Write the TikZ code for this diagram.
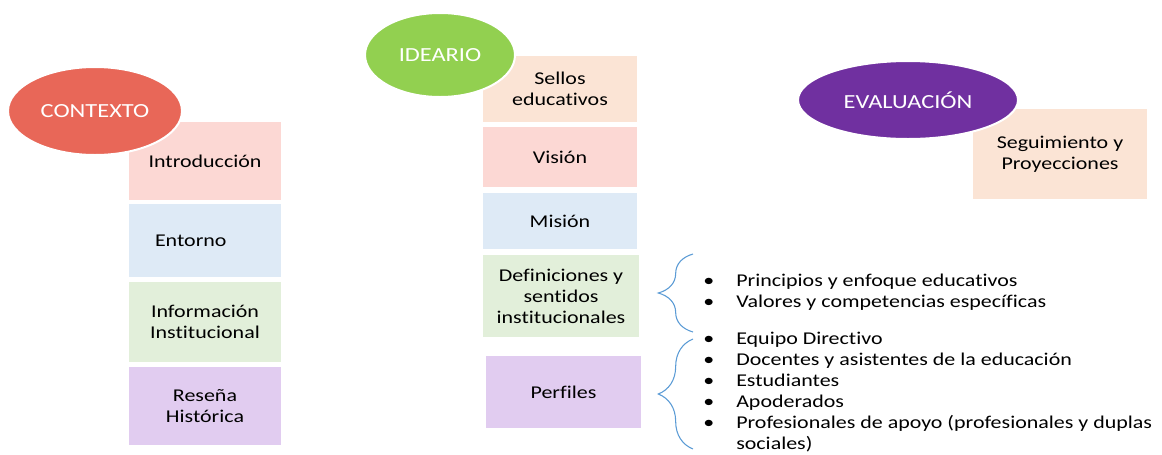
\documentclass[tikz,border=0pt]{standalone}
\usepackage{fontspec}
\setmainfont{Carlito}[FakeStretch=1.22, Ligatures=NoCommon]
\usetikzlibrary{shapes, decorations.pathreplacing}

\definecolor{ctxred}{RGB}{232,103,88}
\definecolor{idegreen}{RGB}{146,208,80}
\definecolor{evapurple}{RGB}{112,48,160}
\definecolor{pinkfill}{RGB}{252,216,212}
\definecolor{bluefill}{RGB}{222,234,246}
\definecolor{greenfill}{RGB}{226,239,218}
\definecolor{lilacfill}{RGB}{225,204,240}
\definecolor{peachfill}{RGB}{251,228,213}
\definecolor{bracecol}{RGB}{91,155,213}

\tikzset{
  box/.style={rectangle, align=center, inner sep=0pt},
  bubble/.style={ellipse, draw=white, line width=1.5pt, text=white, inner sep=0pt,
    font=\fontsize{15}{18}\selectfont},
  bracepath/.style={decorate, decoration={brace, amplitude=26pt}, draw=bracecol, line width=0.8pt}
}

\begin{document}
\begin{tikzpicture}[x=0.75pt, y=-0.75pt, font=\fontsize{13.5}{15.75}\selectfont]
\useasboundingbox (0,0) rectangle (1162,454);

% CONTEXTO
\node[box, fill=pinkfill, minimum width=114pt, minimum height=58.5pt] (intro) at (205,161) {Introducción};
\node[box, fill=bluefill, minimum width=114pt, minimum height=54.75pt, text width=75pt, inner xsep=19.5pt, align=left] (entorno) at (205,240.5) {Entorno};
\node[box, fill=greenfill, minimum width=114pt, minimum height=60pt] (info) at (205,322) {Información\\Institucional};
\node[box, fill=lilacfill, minimum width=114pt, minimum height=58.5pt] (resena) at (205,406) {Reseña\\Histórica};
\node[bubble, fill=ctxred, minimum width=130.5pt, minimum height=66pt] (contexto) at (95,111) {CONTEXTO};

% IDEARIO
\node[box, fill=peachfill, minimum width=115.5pt, minimum height=49.5pt] (sellos) at (560,89) {Sellos\\educativos};
\node[box, fill=pinkfill, minimum width=115.5pt, minimum height=45pt] (vision) at (560,157) {Visión};
\node[box, fill=bluefill, minimum width=115.5pt, minimum height=42pt] (mision) at (560,221) {Misión};
\node[box, fill=greenfill, minimum width=117pt, minimum height=61.5pt] (definiciones) at (561,296) {Definiciones y\\sentidos\\institucionales};
\node[box, fill=lilacfill, minimum width=116.25pt, minimum height=54pt] (perfiles) at (563.5,392) {Perfiles};
\node[bubble, fill=idegreen, minimum width=112.5pt, minimum height=63pt] (ideario) at (440,55) {IDEARIO};

% EVALUACION
\node[box, fill=peachfill, minimum width=130.5pt, minimum height=67.5pt] (seguimiento) at (1060,154) {Seguimiento y\\Proyecciones};
\node[bubble, fill=evapurple, minimum width=165pt, minimum height=58.5pt] (evaluacion) at (908,100) {EVALUACIÓN};

% llaves y listas
\coordinate (b1top) at (693,254);
\coordinate (b1bot) at (693,332);
\coordinate (b2top) at (693,339);
\coordinate (b2bot) at (693,449);
\draw[bracepath] (b1bot) -- (b1top);
\draw[bracepath] (b2bot) -- (b2top);

\node[anchor=west, inner sep=0pt, align=left] (principios) at (703,293) {%
  \begin{tabular}{@{}p{24.75pt}@{}l@{}}
  • & Principios y enfoque educativos\\
  • & Valores y competencias específicas
  \end{tabular}};
\node[anchor=west, inner sep=0pt, align=left] (actores) at (703,392.5) {%
  \begin{tabular}{@{}p{24.75pt}@{}l@{}}
  • & Equipo Directivo\\
  • & Docentes y asistentes de la educación\\
  • & Estudiantes\\
  • & Apoderados\\
  • & Profesionales de apoyo (profesionales y duplas\\
    & sociales)
  \end{tabular}};

\end{tikzpicture}
\end{document}
